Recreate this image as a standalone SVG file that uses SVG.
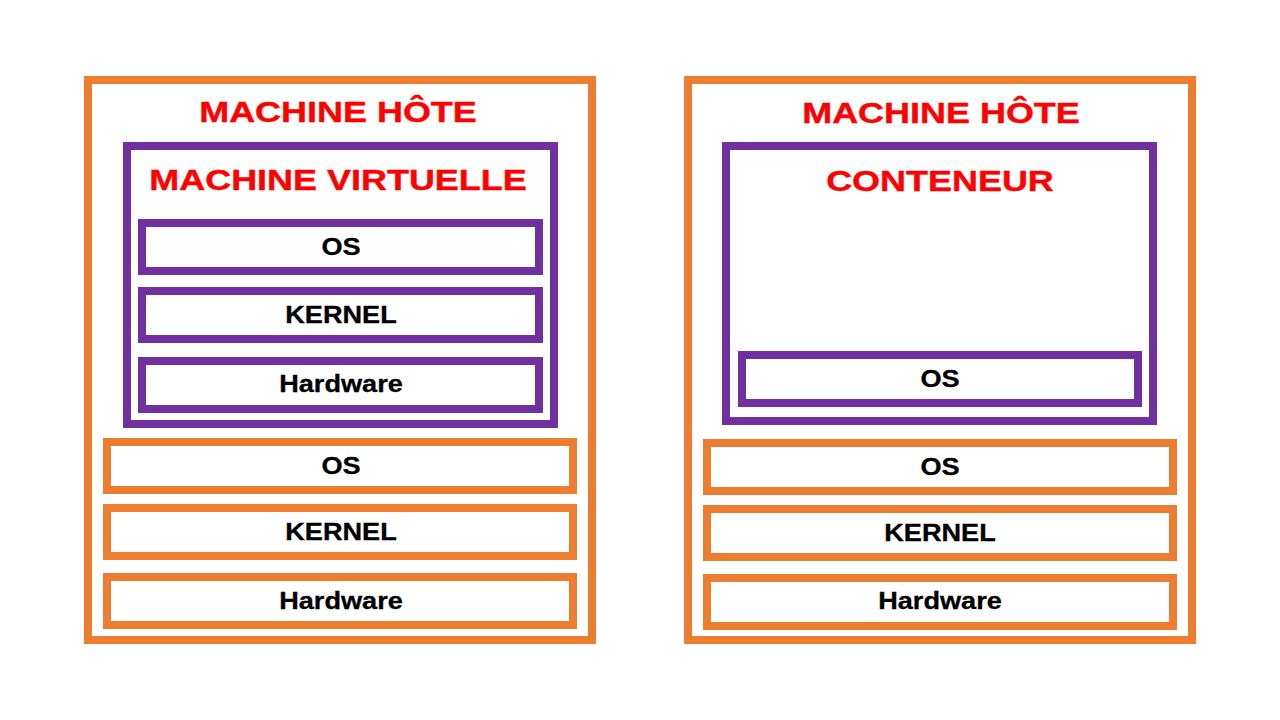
<svg xmlns="http://www.w3.org/2000/svg" width="1280" height="720" viewBox="0 0 1280 720">
<style>
.o{fill:none;stroke:#ED7D31;stroke-width:8}
.p{fill:none;stroke:#7030A0;stroke-width:8}
.t{font-family:"Liberation Sans",Arial,sans-serif;font-weight:bold;fill:#FF0000;font-size:29px;text-anchor:middle;stroke:#FF0000;stroke-width:0.4}
.b{font-family:"Liberation Sans",Arial,sans-serif;font-weight:bold;fill:#000;font-size:23px;text-anchor:middle;stroke:#000;stroke-width:0.3}
</style>
<rect width="1280" height="720" fill="#fff"/>
<g id="vm-host">
<rect class="o" x="88" y="80" width="504" height="560"/>
<text class="t" transform="translate(338,122) scale(1.24,1)">MACHINE HÔTE</text>
</g>
<g id="vm">
<rect class="p" x="127" y="146" width="427" height="278"/>
<text class="t" transform="translate(338,190) scale(1.24,1)">MACHINE VIRTUELLE</text>
</g>
<g id="vm-os"><rect class="p" x="142" y="223" width="397" height="48"/><text class="b" transform="translate(341,255) scale(1.18,1)">OS</text></g>
<g id="vm-kernel"><rect class="p" x="142" y="291" width="397" height="48"/><text class="b" transform="translate(341,323) scale(1.18,1)">KERNEL</text></g>
<g id="vm-hardware"><rect class="p" x="142" y="361" width="397" height="48"/><text class="b" transform="translate(341,392) scale(1.18,1)">Hardware</text></g>
<g id="host1-os"><rect class="o" x="107" y="442" width="466" height="48"/><text class="b" transform="translate(341,474) scale(1.18,1)">OS</text></g>
<g id="host1-kernel"><rect class="o" x="107" y="508" width="466" height="48"/><text class="b" transform="translate(341,540) scale(1.18,1)">KERNEL</text></g>
<g id="host1-hardware"><rect class="o" x="107" y="577" width="466" height="48"/><text class="b" transform="translate(341,609) scale(1.18,1)">Hardware</text></g>

<g id="ct-host">
<rect class="o" x="688" y="80" width="504" height="560"/>
<text class="t" transform="translate(941,123) scale(1.24,1)">MACHINE HÔTE</text>
</g>
<g id="container">
<rect class="p" x="726" y="146" width="427" height="275"/>
<text class="t" transform="translate(940,191) scale(1.24,1)">CONTENEUR</text>
</g>
<g id="ct-os"><rect class="p" x="742" y="355" width="396" height="48"/><text class="b" transform="translate(940,387) scale(1.18,1)">OS</text></g>
<g id="host2-os"><rect class="o" x="707" y="443" width="466" height="48"/><text class="b" transform="translate(940,475) scale(1.18,1)">OS</text></g>
<g id="host2-kernel"><rect class="o" x="707" y="509" width="466" height="48"/><text class="b" transform="translate(940,541) scale(1.18,1)">KERNEL</text></g>
<g id="host2-hardware"><rect class="o" x="707" y="578" width="466" height="48"/><text class="b" transform="translate(940,609) scale(1.18,1)">Hardware</text></g>
<g id="connectors"></g>
</svg>
